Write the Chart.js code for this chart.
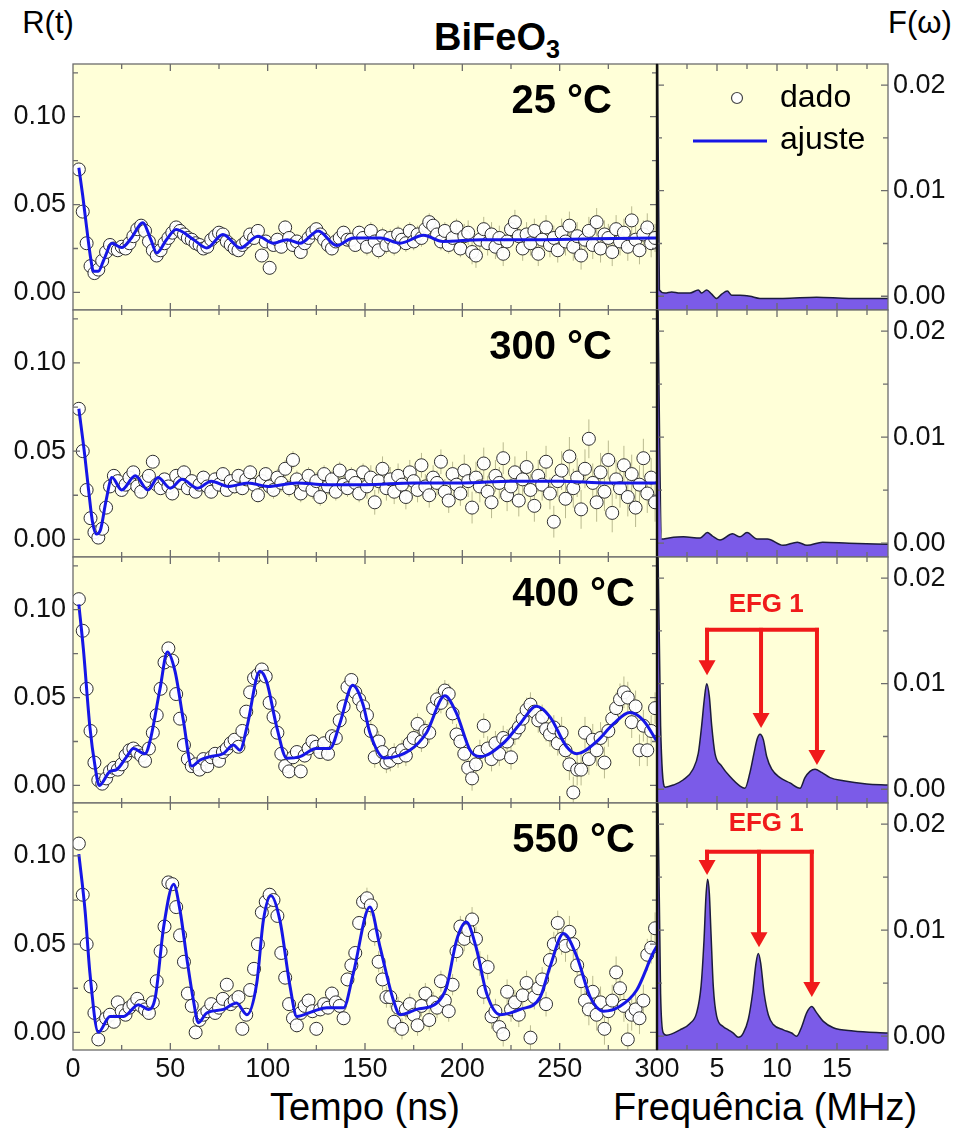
<!DOCTYPE html>
<html>
<head>
<meta charset="utf-8">
<script src="https://cdn.jsdelivr.net/npm/chart.js@4.4.1/dist/chart.umd.min.js"></script>
<style>
  body { margin: 0; background: #fff; width: 955px; height: 1143px; overflow: hidden; position: relative;
         font-family: 'Liberation Sans', Arial, sans-serif; }
  canvas { position: absolute; }
  .lbl { position: absolute; white-space: nowrap; color: #000; line-height: 1; transform: translate(-50%, -50%); }
</style>
</head>
<body>
<div class="lbl" style="left:48px;top:22px;font-size:31px;">R(t)</div>
<div class="lbl" style="left:920px;top:22px;font-size:31px;">F(ω)</div>
<div class="lbl" style="left:497px;top:37px;font-size:38px;font-weight:bold;">BiFeO<span style="font-size:0.66em;position:relative;top:0.32em;">3</span></div>
<div class="lbl" style="left:365px;top:1107px;font-size:38px;">Tempo (ns)</div>
<div class="lbl" style="left:765px;top:1107px;font-size:38px;">Frequência (MHz)</div>

<script>
// ---------------- time grid (ns) shared by all R(t) measurements ----------------
const TIME = [
  3, 5, 7, 9, 11, 13, 15, 17, 19, 21,
  23, 25, 27, 29, 31, 33, 35, 37, 39, 41,
  43, 45, 47, 49, 51, 53, 55, 57, 59, 61,
  63, 65, 67, 69, 71, 73, 75, 77, 79, 81,
  83, 85, 87, 89, 91, 93, 95, 97, 99, 101,
  103, 105, 107, 109, 111, 113, 115, 117, 119, 121,
  123, 125, 127, 129, 131, 133, 135, 137, 139, 141,
  143, 145, 147, 149, 151, 153, 155, 157, 159, 161,
  163, 165, 167, 169, 171, 173, 175, 177, 179, 181,
  183, 185, 187, 189, 191, 193, 195, 197, 199, 201,
  203, 205, 207, 209, 211, 213, 215, 217, 219, 221,
  223, 225, 227, 229, 231, 233, 235, 237, 239, 241,
  243, 245, 247, 249, 251, 253, 255, 257, 259, 261,
  263, 265, 267, 269, 271, 273, 275, 277, 279, 281,
  283, 285, 287, 289, 291, 293, 295, 297, 299
];

// ---------------- measured R(t) ----------------
const R_25C = [
  0.070, 0.046, 0.028, 0.015, 0.011, 0.013, 0.018, 0.023, 0.027, 0.025,
  0.024, 0.026, 0.025, 0.028, 0.032, 0.036, 0.038, 0.035, 0.029, 0.024,
  0.021, 0.024, 0.028, 0.031, 0.034, 0.037, 0.035, 0.033, 0.031, 0.030,
  0.028, 0.027, 0.025, 0.026, 0.030, 0.032, 0.034, 0.033, 0.029, 0.027,
  0.025, 0.024, 0.027, 0.029, 0.033, 0.031, 0.035, 0.021, 0.029, 0.014,
  0.027, 0.030, 0.026, 0.037, 0.031, 0.027, 0.029, 0.023, 0.028, 0.031,
  0.034, 0.036, 0.033, 0.030, 0.027, 0.025, 0.029, 0.031, 0.034, 0.030,
  0.030, 0.027, 0.034, 0.031, 0.026, 0.035, 0.029, 0.024, 0.032, 0.027,
  0.031, 0.026, 0.033, 0.030, 0.028, 0.035, 0.029, 0.033, 0.031, 0.036,
  0.040, 0.038, 0.033, 0.029, 0.035, 0.027, 0.031, 0.037, 0.025, 0.032,
  0.034, 0.023, 0.021, 0.030, 0.036, 0.028, 0.033, 0.026, 0.031, 0.022,
  0.029, 0.036, 0.040, 0.032, 0.025, 0.033, 0.028, 0.035, 0.022, 0.030,
  0.037, 0.027, 0.031, 0.024, 0.034, 0.029, 0.038, 0.026, 0.032, 0.021,
  0.030, 0.035, 0.027, 0.040, 0.025, 0.033, 0.031, 0.023, 0.036, 0.029,
  0.034, 0.026, 0.041, 0.030, 0.024, 0.033, 0.037, 0.028, 0.031
];
const R_300C = [
  0.074, 0.050, 0.028, 0.012, 0.004, 0.001, 0.006, 0.018, 0.030, 0.036,
  0.033, 0.028, 0.031, 0.035, 0.038, 0.030, 0.027, 0.033, 0.036, 0.044,
  0.031, 0.029, 0.034, 0.030, 0.026, 0.036, 0.032, 0.038, 0.029, 0.033,
  0.027, 0.031, 0.035, 0.030, 0.027, 0.034, 0.031, 0.037, 0.028, 0.033,
  0.030, 0.036, 0.029, 0.034, 0.038, 0.031, 0.025, 0.033, 0.037, 0.030,
  0.028, 0.035, 0.032, 0.040, 0.029, 0.045, 0.034, 0.026, 0.031, 0.036,
  0.028, 0.033, 0.024, 0.037, 0.030, 0.034, 0.027, 0.039, 0.031, 0.029,
  0.036, 0.032, 0.026, 0.038, 0.030, 0.035, 0.021, 0.033, 0.040, 0.029,
  0.034, 0.027, 0.036, 0.031, 0.024, 0.038, 0.033, 0.028, 0.042, 0.030,
  0.025, 0.035, 0.032, 0.044, 0.027, 0.022, 0.037, 0.031, 0.026, 0.039,
  0.033, 0.018, 0.035, 0.030, 0.043, 0.027, 0.021, 0.036, 0.032, 0.046,
  0.025, 0.030, 0.038, 0.022, 0.034, 0.041, 0.028, 0.019, 0.036, 0.031,
  0.044, 0.026, 0.010, 0.033, 0.039, 0.023, 0.047, 0.029, 0.035, 0.017,
  0.040, 0.057, 0.032, 0.021, 0.038, 0.027, 0.045, 0.015, 0.034, 0.029,
  0.042, 0.024, 0.037, 0.018, 0.031, 0.046, 0.026, 0.035, 0.021
];
const R_400C = [
  0.106, 0.088, 0.055, 0.031, 0.013, 0.003, 0.001, 0.004, 0.008, 0.010,
  0.009, 0.012, 0.017, 0.020, 0.021, 0.019, 0.017, 0.014, 0.021, 0.030,
  0.040, 0.055, 0.070, 0.078, 0.071, 0.052, 0.038, 0.023, 0.015, 0.011,
  0.012, 0.009, 0.015, 0.011, 0.016, 0.018, 0.014, 0.019, 0.021, 0.024,
  0.026, 0.022, 0.031, 0.042, 0.053, 0.061, 0.063, 0.066, 0.062, 0.047,
  0.039, 0.030, 0.018, 0.011, 0.008, 0.016, 0.019, 0.008, 0.017, 0.021,
  0.025, 0.022, 0.019, 0.024, 0.018, 0.028, 0.027, 0.037, 0.045, 0.056,
  0.060, 0.053, 0.049, 0.045, 0.040, 0.031, 0.016, 0.025, 0.019, 0.013,
  0.014, 0.018, 0.016, 0.020, 0.017, 0.024, 0.027, 0.035, 0.025, 0.031,
  0.030, 0.044, 0.049, 0.047, 0.054, 0.052, 0.041, 0.029, 0.025, 0.018,
  0.010, 0.004, 0.012, 0.019, 0.034, 0.021, 0.015, 0.024, 0.018, 0.027,
  0.025, 0.016, 0.030, 0.033, 0.038, 0.043, 0.046, 0.042, 0.037, 0.039,
  0.032, 0.029, 0.033, 0.024, 0.030, 0.020, 0.012, -0.004, 0.009, 0.009,
  0.030, 0.015, 0.026, 0.020, 0.027, 0.013, 0.031, 0.038, 0.044, 0.049,
  0.053, 0.050, 0.036, 0.045, 0.020, 0.034, 0.020, 0.031, 0.044
];
const R_550C = [
  0.107, 0.078, 0.050, 0.026, 0.011, -0.004, 0.004, 0.008, 0.010, 0.006,
  0.017, 0.012, 0.010, 0.014, 0.016, 0.019, 0.015, 0.013, 0.011, 0.017,
  0.029, 0.046, 0.060, 0.085, 0.084, 0.071, 0.055, 0.040, 0.022, 0.015,
  0.000, 0.007, 0.010, 0.012, 0.016, 0.011, 0.014, 0.019, 0.027, 0.016,
  0.018, 0.020, 0.002, 0.010, 0.024, 0.036, 0.050, 0.068, 0.074, 0.078,
  0.075, 0.066, 0.045, 0.031, 0.016, 0.008, 0.004, 0.011, 0.015, 0.018,
  0.012, 0.002, 0.013, 0.016, 0.014, 0.022, 0.017, 0.015, 0.008, 0.030,
  0.038, 0.045, 0.062, 0.074, 0.076, 0.072, 0.055, 0.040, 0.030, 0.020,
  0.020, 0.006, 0.014, 0.002, 0.013, 0.016, 0.010, 0.004, 0.015, 0.022,
  0.007, 0.017, 0.014, 0.029, 0.018, 0.012, 0.027, 0.046, 0.060, 0.053,
  0.058, 0.064, 0.053, 0.039, 0.023, 0.037, 0.009, 0.012, 0.003, -0.001,
  0.023, 0.013, 0.017, 0.010, 0.021, 0.028, -0.003, 0.020, 0.025, 0.030,
  0.016, 0.041, 0.050, 0.062, 0.053, 0.049, 0.057, 0.050, 0.038, 0.029,
  0.018, 0.013, 0.023, 0.010, 0.017, 0.002, 0.012, 0.018, 0.034, 0.025,
  0.015, -0.004, 0.010, 0.013, 0.008, 0.018, 0.044, 0.048, 0.059
];

// half-length of the error bars, one entry per 50 ns of time
const ERR_25C  = [0.002, 0.003, 0.004, 0.005, 0.007, 0.008];
const ERR_300C = [0.002, 0.004, 0.005, 0.007, 0.009, 0.011];
const ERR_400C = [0.002, 0.003, 0.004, 0.006, 0.007, 0.009];
const ERR_550C = [0.002, 0.003, 0.004, 0.006, 0.007, 0.009];

// ---------------- fitted R(t) curves ----------------
const FIT_25C_T = [3, 5, 7, 9, 10.5, 13, 16, 20, 25, 30, 35.8, 40, 43, 48, 53, 62, 68.7, 77, 86, 95, 103, 110, 116.6, 126, 135.4, 144, 158, 168, 180, 190, 210, 233, 267, 300];
const FIT_25C   = [0.071, 0.055, 0.037, 0.020, 0.012, 0.012, 0.019, 0.028, 0.0255, 0.031, 0.0396, 0.030, 0.0225, 0.030, 0.0358, 0.030, 0.0253, 0.033, 0.0253, 0.032, 0.028, 0.030, 0.028, 0.035, 0.0267, 0.031, 0.031, 0.028, 0.0325, 0.029, 0.030, 0.030, 0.0305, 0.031];

const FIT_300C_T = [3, 6, 8, 10, 12, 14, 17, 20, 25, 32, 38.5, 43.7, 50, 56, 64, 71, 80, 90, 100, 115, 130, 150, 175, 200, 225, 250, 275, 300];
const FIT_300C   = [0.074, 0.048, 0.028, 0.010, 0.003, 0.005, 0.022, 0.035, 0.028, 0.036, 0.028, 0.035, 0.029, 0.034, 0.029, 0.033, 0.030, 0.032, 0.030, 0.032, 0.031, 0.031, 0.032, 0.032, 0.033, 0.033, 0.032, 0.032];

const FIT_400C_T = [3, 5.3, 8.7, 11.3, 13.5, 19, 22.4, 27.6, 31, 37, 39.5, 44.7, 48.5, 52.4, 56.7, 61, 65.3, 70.4, 77.3, 82.4, 85.8, 89.3, 96, 99.5, 104.7, 109.8, 116.6, 125, 132, 137, 143.7, 149, 152.5, 160, 173, 181.6, 191, 197, 204, 209, 221, 229.6, 238, 245, 253.6, 258.7, 269, 277.6, 286, 293, 300];
const FIT_400C   = [0.103, 0.078, 0.033, 0.011, 0.000, 0.008, 0.009, 0.0164, 0.021, 0.018, 0.025, 0.055, 0.076, 0.065, 0.037, 0.011, 0.0145, 0.0164, 0.0182, 0.023, 0.020, 0.033, 0.065, 0.059, 0.033, 0.0155, 0.0164, 0.021, 0.021, 0.035, 0.057, 0.046, 0.030, 0.0156, 0.020, 0.030, 0.051, 0.041, 0.020, 0.0164, 0.024, 0.035, 0.045, 0.039, 0.022, 0.018, 0.025, 0.035, 0.0415, 0.037, 0.025];

const FIT_550C_T = [3, 6.2, 8.7, 13, 19, 26, 33.6, 38.8, 42.3, 46.6, 51.7, 55, 58.6, 61.8, 64.4, 68.7, 77.3, 84, 89.3, 94.4, 97.8, 101.7, 106.3, 111.5, 115, 123.5, 130.4, 139, 144, 152.5, 157.7, 164.5, 168, 176.6, 187, 192, 197, 202, 207, 212.5, 219.4, 229.7, 240, 245, 252, 258.8, 265.7, 272.5, 281, 289.6, 298, 300];
const FIT_550C   = [0.101, 0.069, 0.0335, 0.000, 0.009, 0.009, 0.0157, 0.013, 0.020, 0.060, 0.084, 0.069, 0.041, 0.0185, 0.0055, 0.011, 0.013, 0.0167, 0.010, 0.028, 0.0635, 0.0775, 0.0635, 0.026, 0.009, 0.012, 0.014, 0.014, 0.0335, 0.071, 0.0485, 0.0185, 0.010, 0.013, 0.0167, 0.026, 0.052, 0.0625, 0.0485, 0.022, 0.010, 0.013, 0.020, 0.037, 0.056, 0.043, 0.020, 0.012, 0.0148, 0.024, 0.045, 0.049];

// ---------------- frequency spectra F(ω) ----------------
const FREQ_25C = [0, 0.2, 0.67, 1.22, 1.9, 2.75, 3.44, 3.72, 4.14, 4.56, 4.97, 5.39, 5.86, 6.22, 6.92, 7.75, 8.58, 10.5, 13.3, 16.0, 19.25];
const F_25C    = [0.03, 0.0006, 0.0003, 0.0004, 0.0003, 0.0003, 0.0006, 0.0003, 0.0006, 0.0002, -0.0002, 0.0002, 0.0005, 0.0001, 0.0001, 0.0000, -0.0002, -0.0002, -0.0001, -0.0002, -0.0002];

const FREQ_300C = [0, 0.4, 1.0, 2.2, 3.6, 4.2, 4.6, 5.25, 6.3, 6.9, 7.5, 8.33, 9.2, 10.5, 11.7, 12.5, 13.8, 16.0, 19.25];
const F_300C    = [0.03, 0.0004, 0.0005, 0.0006, 0.0005, 0.0010, 0.0007, 0.0003, 0.0009, 0.0006, 0.0010, 0.0004, 0.0004, -0.0002, 0.0001, -0.0002, 0.0001, 0.0000, -0.0001];

const FREQ_400C = [0, 0.3, 0.69, 1.36, 2.2, 3.0, 3.44, 3.72, 3.94, 4.14, 4.36, 4.56, 4.83, 5.39, 6.08, 6.92, 7.33, 7.75, 8.08, 8.36, 8.58, 8.86, 9.14, 9.56, 10.25, 11.08, 11.92, 12.33, 12.75, 13.17, 13.72, 14.42, 15.53, 17.47, 19.25];
const F_400C    = [0.03, 0.006, 0.0002, 0.0004, 0.0009, 0.0019, 0.0034, 0.0060, 0.0085, 0.0100, 0.0088, 0.0060, 0.0034, 0.0022, 0.0012, 0.0003, 0.0001, 0.0016, 0.0034, 0.0048, 0.0052, 0.0047, 0.0031, 0.0019, 0.0011, 0.0006, 0.0001, 0.0011, 0.0017, 0.0019, 0.0016, 0.0011, 0.0008, 0.0005, 0.0004];

const FREQ_550C = [0, 0.3, 0.53, 0.8, 1.92, 2.75, 3.3, 3.67, 3.92, 4.08, 4.22, 4.36, 4.5, 4.69, 4.97, 5.53, 5.94, 6.36, 6.78, 7.19, 7.61, 7.97, 8.25, 8.44, 8.64, 8.92, 9.28, 9.69, 10.53, 11.22, 11.64, 12.06, 12.47, 12.89, 13.31, 13.86, 14.69, 16.36, 19.25];
const F_550C    = [0.03, 0.004, 0.0003, 0.0001, 0.0006, 0.0012, 0.0022, 0.0047, 0.0091, 0.0132, 0.0148, 0.0135, 0.0097, 0.0047, 0.0019, 0.0009, 0.0006, 0.0003, -0.0001, 0.0003, 0.0016, 0.0041, 0.0069, 0.0078, 0.0069, 0.0041, 0.0020, 0.0011, 0.0006, 0.0003, 0.0000, 0.0009, 0.0022, 0.0028, 0.0022, 0.0014, 0.0008, 0.0005, 0.0003];

// EFG 1 frequency triplet markers
const EFG_400C_F = [4.17, 8.67, 13.33];
const EFG_400C_TIP = [0.0108, 0.0058, 0.0023];
const EFG_400C_BAR = 0.0151, EFG_400C_TEXT = 0.0175;
const EFG_550C_F = [4.17, 8.5, 12.9];
const EFG_550C_TIP = [0.0152, 0.0084, 0.0037];
const EFG_550C_BAR = 0.0174, EFG_550C_TEXT = 0.0200;
const EFG_TEXT_F = 9.1;

// ---------------- axes ----------------
const TEMPS = ['25 °C', '300 °C', '400 °C', '550 °C'];
const T_TICKS = [0, 50, 100, 150, 200, 250, 300];
const T_MINOR = [25, 75, 125, 175, 225, 275];
const R_TICKS = [0, 0.05, 0.10];
const R_MINOR = [0.025, 0.075, 0.125];
const F_TICKS = [5, 10, 15];
const F_MINOR = [2.5, 7.5, 12.5, 17.5];
const S_TICKS = [0, 0.01, 0.02];
const S_MINOR = [0.005, 0.015];

// ---------------- styling / layout ----------------
const BG = '#FFFFD8';
const BLUE = '#1616E6';
const PURPLE = '#7B5BE8';
const RED = '#F01A1A';
const FRAME = '#6c6c6c';
const FONT = "'Liberation Sans', Arial, sans-serif";
const PANEL_TOP = [64, 310, 557, 803];
const PANEL_H = [246, 247, 246, 247];
const PAD = 4;
const AXIS_BAND = 50;
const LEFT_W = 720, DIV_X = 657, RIGHT_X1 = 888;

const ROWS = [
  { r: R_25C,  err: ERR_25C,  fitT: FIT_25C_T,  fit: FIT_25C,  freq: FREQ_25C,  f: F_25C,  inset: 45, efg: null },
  { r: R_300C, err: ERR_300C, fitT: FIT_300C_T, fit: FIT_300C, freq: FREQ_300C, f: F_300C, inset: 45, efg: null },
  { r: R_400C, err: ERR_400C, fitT: FIT_400C_T, fit: FIT_400C, freq: FREQ_400C, f: F_400C, inset: 22,
    efg: { f: EFG_400C_F, tip: EFG_400C_TIP, bar: EFG_400C_BAR, text: EFG_400C_TEXT } },
  { r: R_550C, err: ERR_550C, fitT: FIT_550C_T, fit: FIT_550C, freq: FREQ_550C, f: F_550C, inset: 22,
    efg: { f: EFG_550C_F, tip: EFG_550C_TIP, bar: EFG_550C_BAR, text: EFG_550C_TEXT } }
];

// background, error bars, frame with inward ticks, labels and annotations
const panelDecor = {
  id: 'panelDecor',
  beforeDraw(chart) {
    const { ctx, chartArea: a } = chart;
    ctx.save();
    ctx.fillStyle = BG;
    ctx.fillRect(a.left, a.top, a.right - a.left, a.bottom - a.top);
    ctx.restore();
  },
  beforeDatasetsDraw(chart, args, o) {
    if (!o.errors) return;
    const { ctx, chartArea: a } = chart;
    const ys = chart.scales.y;
    const ds = chart.data.datasets[o.errIndex];
    const meta = chart.getDatasetMeta(o.errIndex);
    ctx.save();
    ctx.beginPath(); ctx.rect(a.left, a.top, a.right - a.left, a.bottom - a.top); ctx.clip();
    ctx.strokeStyle = 'rgba(140,140,95,0.6)';
    ctx.lineWidth = 1;
    ctx.beginPath();
    meta.data.forEach((pt, k) => {
      const d = ds.data[k];
      const e = o.errors[Math.min(o.errors.length - 1, Math.floor(d.x / 50))];
      ctx.moveTo(pt.x, ys.getPixelForValue(d.y + e));
      ctx.lineTo(pt.x, ys.getPixelForValue(d.y - e));
    });
    ctx.stroke();
    ctx.restore();
  },
  afterDatasetsDraw(chart, args, o) {
    const { ctx, chartArea: a } = chart;
    const xs = chart.scales.x, ys = chart.scales.y;
    ctx.save();
    // frame
    ctx.strokeStyle = FRAME;
    ctx.lineWidth = 1.3;
    ctx.strokeRect(a.left, a.top, a.right - a.left, a.bottom - a.top);
    // inward tick marks on all four sides
    const tickX = (vals, len) => vals.forEach(v => {
      const p = xs.getPixelForValue(v);
      if (p <= a.left + 1 || p >= a.right - 1) return;
      ctx.beginPath();
      ctx.moveTo(p, a.bottom); ctx.lineTo(p, a.bottom - len);
      ctx.moveTo(p, a.top); ctx.lineTo(p, a.top + len);
      ctx.stroke();
    });
    const tickY = (vals, len) => vals.forEach(v => {
      const p = ys.getPixelForValue(v);
      if (p <= a.top + 1 || p >= a.bottom - 1) return;
      ctx.beginPath();
      ctx.moveTo(a.left, p); ctx.lineTo(a.left + len, p);
      ctx.moveTo(a.right, p); ctx.lineTo(a.right - len, p);
      ctx.stroke();
    });
    tickX(o.xMajor, 7); tickX(o.xMinor, 5);
    tickY(o.yMajor, 7); tickY(o.yMinor, 5);
    // dark divider between the time and frequency panels
    if (o.divider) {
      ctx.strokeStyle = '#111';
      ctx.lineWidth = 2.4;
      ctx.beginPath(); ctx.moveTo(a.left, a.top); ctx.lineTo(a.left, a.bottom); ctx.stroke();
    }
    // temperature label
    if (o.label) {
      ctx.fillStyle = '#000';
      ctx.font = 'bold 40px ' + FONT;
      ctx.textAlign = 'right';
      ctx.textBaseline = 'middle';
      ctx.fillText(o.label, a.right - o.inset, a.top + 38);
    }
    // EFG 1 triplet arrows
    if (o.efg) {
      const e = o.efg;
      ctx.strokeStyle = RED; ctx.fillStyle = RED;
      ctx.lineWidth = 4;
      const yb = ys.getPixelForValue(e.bar);
      const px = e.f.map(f => xs.getPixelForValue(f));
      ctx.beginPath(); ctx.moveTo(px[0] - 2, yb); ctx.lineTo(px[px.length - 1] + 2, yb); ctx.stroke();
      px.forEach((x, k) => {
        const yt = ys.getPixelForValue(e.tip[k]);
        ctx.beginPath(); ctx.moveTo(x, yb - 2); ctx.lineTo(x, yt - 13); ctx.stroke();
        ctx.beginPath();
        ctx.moveTo(x - 8.5, yt - 15); ctx.lineTo(x + 8.5, yt - 15); ctx.lineTo(x, yt);
        ctx.closePath(); ctx.fill();
      });
      ctx.font = 'bold 26px ' + FONT;
      ctx.textAlign = 'center';
      ctx.textBaseline = 'middle';
      ctx.fillText('EFG 1', xs.getPixelForValue(EFG_TEXT_F), ys.getPixelForValue(e.text));
    }
    // legend
    if (o.legend) {
      const lx = a.left, ly = a.top;
      ctx.lineWidth = 1.2;
      ctx.strokeStyle = '#444'; ctx.fillStyle = '#fff';
      ctx.beginPath(); ctx.arc(lx + 80, ly + 34, 5.5, 0, Math.PI * 2); ctx.fill(); ctx.stroke();
      ctx.strokeStyle = BLUE; ctx.lineWidth = 3;
      ctx.beginPath(); ctx.moveTo(lx + 36, ly + 77); ctx.lineTo(lx + 110, ly + 77); ctx.stroke();
      ctx.fillStyle = '#000';
      ctx.font = '32px ' + FONT;
      ctx.textAlign = 'left';
      ctx.textBaseline = 'middle';
      ctx.fillText('dado', lx + 123, ly + 34);
      ctx.fillText('ajuste', lx + 123, ly + 76);
    }
    ctx.restore();
  }
};
Chart.register(panelDecor);

function addCanvas(left, top, w, h) {
  const c = document.createElement('canvas');
  c.width = w; c.height = h;
  c.style.left = left + 'px'; c.style.top = top + 'px';
  c.style.width = w + 'px'; c.style.height = h + 'px';
  document.body.appendChild(c);
  return c;
}

const tickFont = { family: FONT, size: 27 };
const fixedTicks = list => s => { s.ticks = list.map(v => ({ value: v })); };
// pin the axis sizes so every plot area lands on the same grid
const fixX = hgt => s => { s.height = hgt; s.paddingLeft = 0; s.paddingRight = 0; s.paddingTop = 0; s.paddingBottom = 0; };
const fixY = wid => s => { s.width = wid; s.paddingTop = 0; s.paddingBottom = 0; s.paddingLeft = 0; s.paddingRight = 0; };

ROWS.forEach((row, i) => {
  const last = i === ROWS.length - 1;
  const h = PAD + PANEL_H[i] + (last ? AXIS_BAND : PAD);
  const top = PANEL_TOP[i] - PAD;

  // time-domain panel
  const cl = addCanvas(0, top, LEFT_W, h);
  new Chart(cl, {
    type: 'scatter',
    data: {
      datasets: [
        {
          label: 'ajuste', type: 'line', showLine: true, fill: false,
          data: row.fitT.map((t, k) => ({ x: t, y: row.fit[k] })),
          borderColor: BLUE, borderWidth: 3, pointRadius: 0,
          cubicInterpolationMode: 'monotone', order: 0
        },
        {
          label: 'dado',
          data: TIME.map((t, k) => ({ x: t, y: row.r[k] })),
          pointRadius: 6.5, pointBackgroundColor: 'rgba(255,255,255,0.93)',
          pointBorderColor: '#2e2e2e', pointBorderWidth: 1, order: 1
        }
      ]
    },
    options: {
      responsive: false, animation: false, devicePixelRatio: 1, events: [],
      layout: { autoPadding: false, padding: { left: 0, top: PAD, right: LEFT_W - DIV_X, bottom: last ? 0 : PAD } },
      plugins: {
        legend: { display: false }, tooltip: { enabled: false },
        panelDecor: { errors: row.err, errIndex: 1, xMajor: T_TICKS, xMinor: T_MINOR, yMajor: R_TICKS, yMinor: R_MINOR,
                      label: TEMPS[i], inset: row.inset }
      },
      scales: {
        x: {
          type: 'linear', min: 0, max: 300,
          grid: { display: false, drawTicks: false }, border: { display: false },
          ticks: { display: last, font: tickFont, color: '#111', padding: 3, maxRotation: 0, autoSkip: false,
                   callback: v => String(v) },
          afterBuildTicks: fixedTicks(T_TICKS),
          afterFit: fixX(last ? AXIS_BAND : 0)
        },
        y: {
          type: 'linear', min: -0.01, max: 0.13,
          grid: { display: false, drawTicks: false }, border: { display: false },
          ticks: { font: tickFont, color: '#111', padding: 7, callback: v => v.toFixed(2) },
          afterBuildTicks: fixedTicks(R_TICKS),
          afterFit: fixY(73)
        }
      }
    }
  });

  // frequency-domain panel
  const rw = 955 - (DIV_X - PAD);
  const cr = addCanvas(DIV_X - PAD, top, rw, h);
  new Chart(cr, {
    type: 'line',
    data: {
      datasets: [{
        label: 'F(ω)',
        data: row.freq.map((f, k) => ({ x: f, y: row.f[k] })),
        fill: 'start', backgroundColor: PURPLE,
        borderColor: '#1c1c3c', borderWidth: 1.5, pointRadius: 0,
        cubicInterpolationMode: 'monotone'
      }]
    },
    options: {
      responsive: false, animation: false, devicePixelRatio: 1, events: [],
      layout: { autoPadding: false, padding: { left: PAD, top: PAD, right: 0, bottom: last ? 0 : PAD } },
      plugins: {
        legend: { display: false }, tooltip: { enabled: false },
        panelDecor: { xMajor: F_TICKS, xMinor: F_MINOR, yMajor: S_TICKS, yMinor: S_MINOR,
                      divider: true, efg: row.efg, legend: i === 0 }
      },
      scales: {
        x: {
          type: 'linear', min: 0, max: 19.25,
          grid: { display: false, drawTicks: false }, border: { display: false },
          ticks: { display: last, font: tickFont, color: '#111', padding: 3, maxRotation: 0, autoSkip: false,
                   callback: v => String(v) },
          afterBuildTicks: fixedTicks(F_TICKS),
          afterFit: fixX(last ? AXIS_BAND : 0)
        },
        y: {
          type: 'linear', position: 'right', min: -0.0013, max: 0.022,
          grid: { display: false, drawTicks: false }, border: { display: false },
          ticks: { font: tickFont, color: '#111', padding: 5, callback: v => v.toFixed(2) },
          afterBuildTicks: fixedTicks(S_TICKS),
          afterFit: fixY(rw - PAD - (RIGHT_X1 - DIV_X))
        }
      }
    }
  });
});
</script>
</body>
</html>
